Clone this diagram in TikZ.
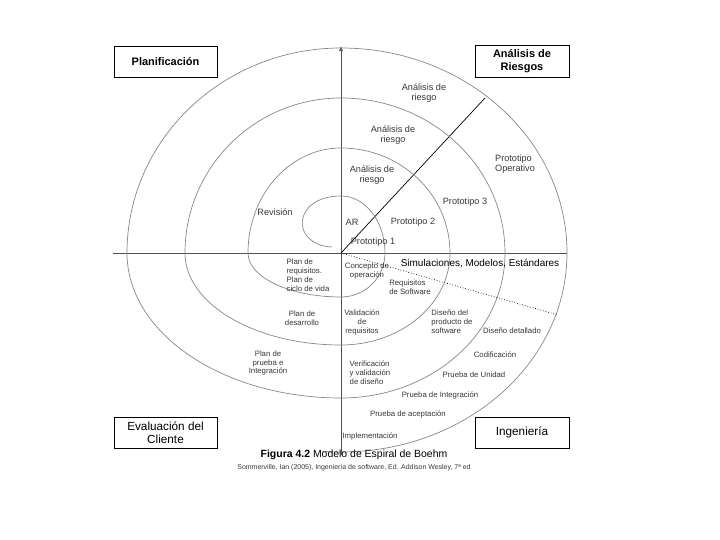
\documentclass[tikz,border=0pt]{standalone}
\usepackage{fontspec}
\setmainfont{Liberation Sans}
\usetikzlibrary{arrows.meta, positioning}

\definecolor{spiralgray}{RGB}{135,135,135}
\definecolor{axisgray}{RGB}{80,80,80}
\definecolor{labelgray}{RGB}{55,55,55}

\begin{document}
\begin{tikzpicture}[
    x=1bp, y=1bp,
    quad box/.style={rectangle, draw, line width=.8bp, align=center, inner sep=0pt},
    mid label/.style={font=\fontsize{9.2}{10.5}\selectfont, text=labelgray, align=center, inner sep=0pt},
    small label/.style={font=\fontsize{7.8}{9}\selectfont, text=labelgray, align=center, inner sep=0pt},
    spiral line/.style={draw=spiralgray, line width=.7bp},
    axis line/.style={draw=axisgray, line width=.7bp},
    arrow/.style={-{Latex[length=5bp, width=4bp]}}
    ]

    \useasboundingbox (0,0) rectangle (720,-540);

    % ejes
    \coordinate (C) at (341,-253);
    \coordinate (Top) at (341,-46);
    \coordinate (Bottom) at (341,-455);
    \coordinate (Left) at (113,-253);
    \coordinate (Right) at (567,-253);
    \coordinate (RiskEnd) at (485,-98);
    \coordinate (DesignEnd) at (558,-315);

    \draw[axis line, arrow] (Bottom) -- (Top);
    \draw[axis line] (Left) -- (Right);
    \draw[line width=.7bp] (C) -- (RiskEnd);
    \draw[line width=.7bp, dotted] (C) -- (DesignEnd);

    % espiral
    \coordinate (Tail) at (332,-247);
    \draw[spiral line] (Tail) .. controls (290,-245) and (292,-196) .. (341,-196)
        arc[start angle=90, end angle=0, x radius=44, y radius=57]
        arc[start angle=0, end angle=-90, x radius=44, y radius=44]
        arc[start angle=-90, end angle=-180, x radius=93, y radius=44]
        arc[start angle=180, end angle=90, x radius=93, y radius=105]
        arc[start angle=90, end angle=0, x radius=109, y radius=105]
        arc[start angle=0, end angle=-90, x radius=109, y radius=92]
        arc[start angle=-90, end angle=-180, x radius=156, y radius=92]
        arc[start angle=180, end angle=90, x radius=156, y radius=155]
        arc[start angle=90, end angle=0, x radius=164, y radius=155]
        arc[start angle=0, end angle=-90, x radius=164, y radius=145]
        arc[start angle=-90, end angle=-180, x radius=214, y radius=145]
        arc[start angle=180, end angle=90, x radius=214, y radius=205]
        arc[start angle=90, end angle=0, x radius=226, y radius=205]
        arc[start angle=0, end angle=-90, x radius=226, y radius=199]
        arc[start angle=-90, end angle=-95, x radius=214, y radius=199];

    % cuadrantes
    \node[quad box, minimum width=103bp, minimum height=31bp, font=\fontsize{11}{13}\selectfont\bfseries] (PLAN) at (165.5,-61.5) {Planificación};
    \node[quad box, minimum width=94bp, minimum height=32bp, font=\fontsize{11}{13}\selectfont\bfseries] (RISK) at (522,-61) {Análisis de\\Riesgos};
    \node[quad box, minimum width=103bp, minimum height=31bp, font=\fontsize{11.8}{12.5}\selectfont] (EVAL) at (165.5,-432.5) {Evaluación del\\Cliente};
    \node[quad box, minimum width=94bp, minimum height=31bp, font=\fontsize{11.8}{13}\selectfont] (ENG) at (522,-432.5) {Ingeniería};

    % analisis de riesgo
    \node[mid label] (AR3) at (424,-93) {Análisis de\\riesgo};
    \node[mid label] (AR2) at (393,-135) {Análisis de\\riesgo};
    \node[mid label] (AR1) at (372,-175) {Análisis de\\riesgo};
    \node[mid label] (AR0) at (352,-222) {AR};

    % prototipos
    \node[mid label, align=left] (PO) at (515,-164) {Prototipo\\Operativo};
    \node[mid label] (P3) at (465,-202) {Prototipo 3};
    \node[mid label] (P2) at (413,-222) {Prototipo 2};
    \node[mid label] (P1) at (373,-242) {Prototipo 1};
    \node[mid label] (REV) at (275,-212) {Revisión};

    \node[font=\fontsize{10}{12}\selectfont, inner sep=0pt] (SIM) at (480,-263) {Simulaciones, Modelos, Estándares};

    % planes
    \node[small label, align=left] (PL1) at (308,-275) {Plan de\\requisitos.\\Plan de\\ciclo de vida};
    \node[small label] (PL2) at (302,-318) {Plan de\\desarrollo};
    \node[small label] (PL3) at (268,-363) {Plan de\\prueba e\\Integración};

    % ingenieria
    \node[small label] (CO) at (367,-271) {Concepto de\\operación};
    \node[small label, align=left] (RS) at (410,-287) {Requisitos\\de Software};
    \node[small label] (VR) at (362,-322) {Validación\\de\\requisitos};
    \node[small label, align=left] (DP) at (452,-322) {Diseño del\\producto de\\software};
    \node[small label] (DD) at (512,-331) {Diseño detallado};
    \node[small label, align=left] (VV) at (370,-373) {Verificación\\y validación\\de diseño};
    \node[small label] (COD) at (495,-355) {Codificación};
    \node[small label] (PU) at (474,-375) {Prueba de Unidad};
    \node[small label] (PI) at (440,-395) {Prueba de Integración};
    \node[small label] (PA) at (408,-414) {Prueba de aceptación};
    \node[small label] (IMP) at (370,-436) {Implementación};

    % pie de figura
    \node[font=\fontsize{10.5}{12}\selectfont, inner sep=0pt] (CAP) at (354,-455) {\textbf{Figura 4.2} Modelo de Espiral de Boehm};
    \node[font=\fontsize{7}{8}\selectfont, text=labelgray, inner sep=0pt, below=4bp of CAP] (REF) {Sommerville, Ian (2005), Ingeniería de software, Ed. Addison Wesley, 7ª ed};

\end{tikzpicture}
\end{document}
